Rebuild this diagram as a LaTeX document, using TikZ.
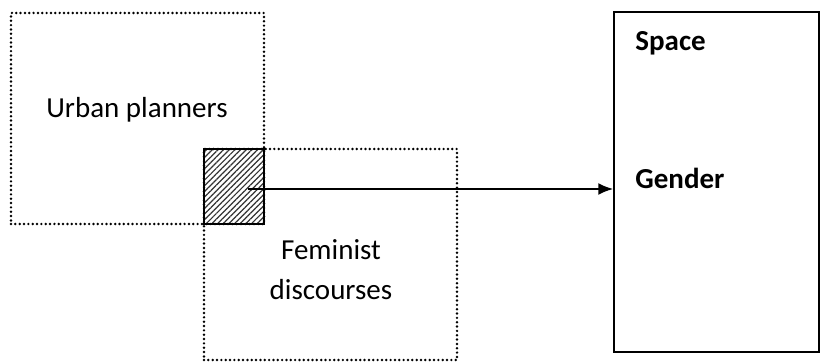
\documentclass[tikz,border=0pt]{standalone}
\usepackage{fontspec}
\setmainfont{Carlito}
\usetikzlibrary{arrows.meta,positioning,patterns.meta}

\begin{document}
\begin{tikzpicture}[
    x=0.5pt, y=-0.5pt,
    every node/.style={font=\fontsize{14.5}{20}\selectfont, inner sep=0pt},
    dotbox/.style={draw, rectangle, line width=1.35pt, line cap=round,
        dash pattern=on 0pt off 2.17pt, minimum width=126.5pt, minimum height=105.5pt},
    hatchbox/.style={draw, line width=0.6pt, minimum width=30pt, minimum height=37.5pt,
        pattern={Lines[angle=45,distance=2pt,line width=0.6pt]}, pattern color=black!80},
    solidbox/.style={draw, line width=0.75pt, minimum width=102.5pt, minimum height=170pt},
    link/.style={draw, line width=1pt, -{Latex[length=7.5pt,width=6pt]}},
]
\useasboundingbox (0,0) rectangle (823,362);
% boxes
\node[dotbox] (urban) at (137.5,118.5) {};
\node[dotbox] (feminist) at (330.5,254.5) {};
\node[hatchbox] (overlap) at (234,186.5) {};
\node[solidbox] (outcome) at (716.5,182) {};
% labels
\node (urbantext) at (137,110) {Urban planners};
\node[align=center] (feministtext) at (331,270) {Feminist\\discourses};
\node[anchor=west, font=\fontsize{14.5}{20}\selectfont\bfseries] (space) at (635,43) {Space};
\node[anchor=west, font=\fontsize{14.5}{20}\selectfont\bfseries] (gender) at (635,178) {Gender};
% arrow
\coordinate (start) at (248,189);
\draw[link] (start) -- (start -| outcome.west);
\end{tikzpicture}
\end{document}
